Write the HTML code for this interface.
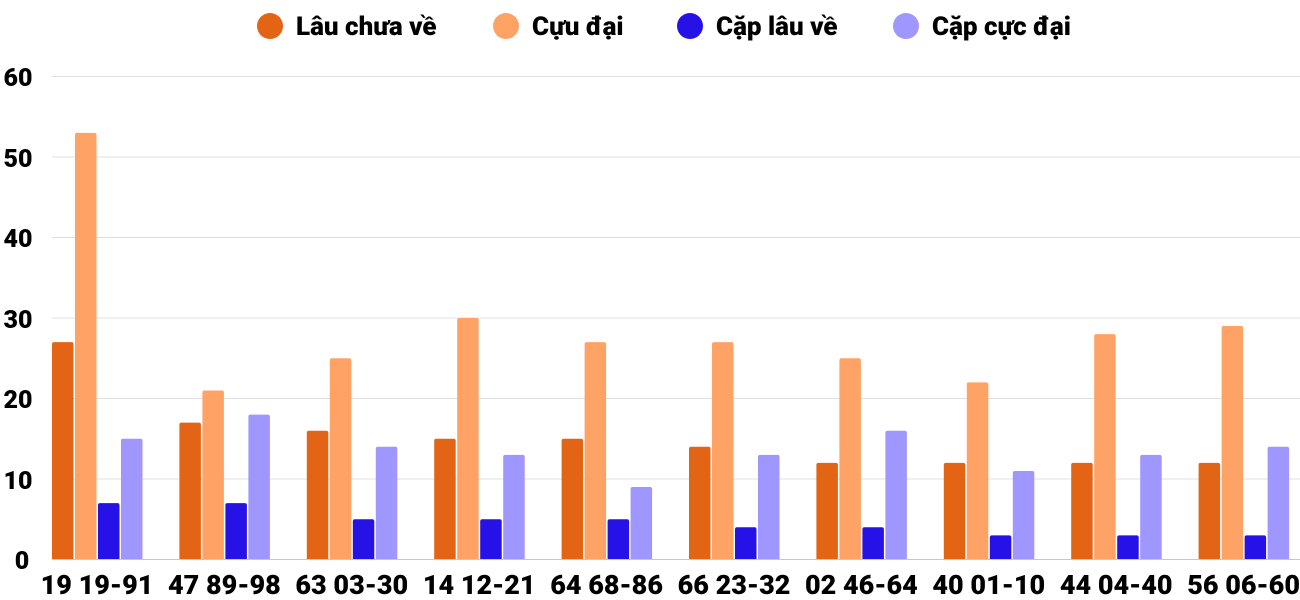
<!DOCTYPE html>
<html><head><meta charset="utf-8"><style>body{margin:0;background:#fff}svg{display:block}text{font-family:"Roboto","Liberation Sans",sans-serif;font-weight:900;fill:#000}</style></head><body>
<svg width="1300" height="600" xmlns="http://www.w3.org/2000/svg">
<g stroke="#e0e0e0" stroke-width="1">
<line x1="52" x2="1300" y1="76.5" y2="76.5"/><line x1="52" x2="1300" y1="157" y2="157"/><line x1="52" x2="1300" y1="237.5" y2="237.5"/><line x1="52" x2="1300" y1="318" y2="318"/><line x1="52" x2="1300" y1="398.5" y2="398.5"/><line x1="52" x2="1300" y1="479" y2="479"/>
</g>
<g font-size="25" text-anchor="middle">
<text x="18" y="86">60</text><text x="18" y="167">50</text><text x="18" y="247">40</text><text x="18" y="328">30</text><text x="18" y="408">20</text><text x="18" y="489">10</text><text x="22" y="569">0</text>
</g>
<g id="bars"></g>
<line x1="52" x2="1300" y1="559.5" y2="559.5" stroke="#c8c8c8" stroke-width="1"/>
<g font-size="26">
<circle cx="270" cy="26" r="13" fill="#e36414"/><text x="296" y="35">Lâu chưa về</text>
<circle cx="506" cy="26" r="13" fill="#ffa266"/><text x="532" y="35">Cựu đại</text>
<circle cx="690" cy="26" r="13" fill="#2612e6"/><text x="716" y="35">Cặp lâu về</text>
<circle cx="906" cy="26" r="13" fill="#a096ff"/><text x="932" y="35">Cặp cực đại</text>
</g>
<g font-size="27" text-anchor="middle" id="labels"></g>
<script>
var d=[["19 19-91",27,53,7,15],["47 89-98",17,21,7,18],["63 03-30",16,25,5,14],["14 12-21",15,30,5,13],["64 68-86",15,27,5,9],["66 23-32",14,27,4,13],["02 46-64",12,25,4,16],["40 01-10",12,22,3,11],["44 04-40",12,28,3,13],["56 06-60",12,29,3,14]];
var c=["#e36414","#ffa266","#2612e6","#a096ff"],ns="http://www.w3.org/2000/svg",b=document.getElementById("bars"),l=document.getElementById("labels");
d.forEach(function(g,i){var x0=52+127.4*i;for(var k=0;k<4;k++){var h=g[k+1]*8.05,r=document.createElementNS(ns,"path"),x=x0+k*23,w=21.5,y=559.5-h;r.setAttribute("d","M"+x+" 559.5V"+(y+2)+"Q"+x+" "+y+" "+(x+2)+" "+y+"H"+(x+w-2)+"Q"+(x+w)+" "+y+" "+(x+w)+" "+(y+2)+"V559.5Z");r.setAttribute("fill",c[k]);b.appendChild(r);}
var t=document.createElementNS(ns,"text");t.setAttribute("x",x0+45);t.setAttribute("y",594);t.textContent=g[0];l.appendChild(t);});
</script>
</svg>
</body></html>
